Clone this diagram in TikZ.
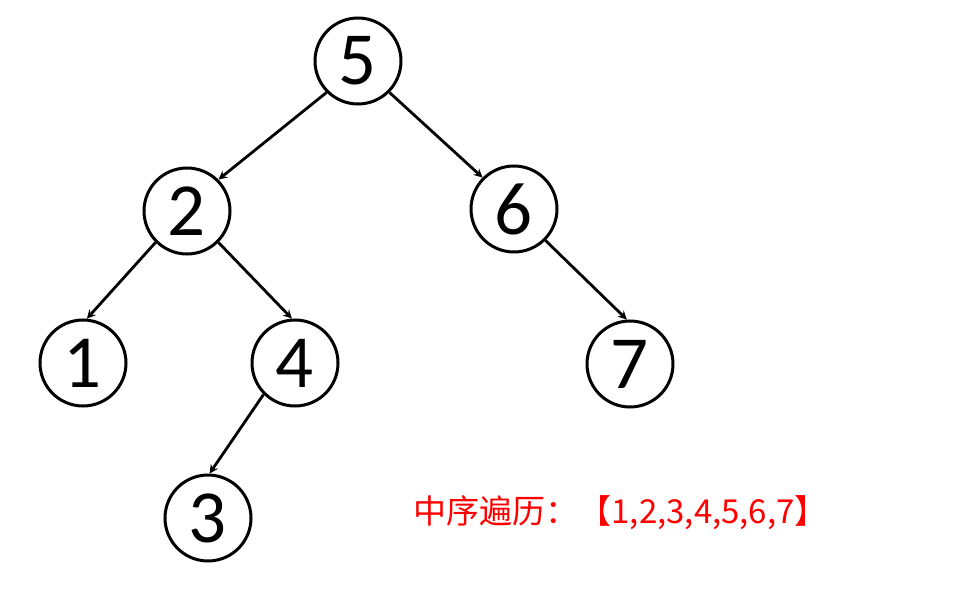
\documentclass[tikz,border=0pt]{standalone}
\usepackage{fontspec}
\setmainfont{Carlito}
\newfontfamily\cjk{Noto Sans CJK SC}
\usetikzlibrary{arrows, positioning}

\begin{document}
\begin{tikzpicture}[
    x=1pt, y=1pt,
    on grid,
    vertex/.style={circle, draw, line width=3pt, minimum size=86pt, inner sep=0pt, font=\fontsize{75}{75}\selectfont},
    arrow/.style={->, >=stealth, line width=2.8pt}
]
\useasboundingbox (0,0) rectangle (967,-599);

% Root
\node[vertex] (five) at (358,-61) {5};

% Second level
\node[vertex, below=150pt of five, xshift=-171pt] (two) {2};
\node[vertex, below=148pt of five, xshift=156pt] (six) {6};

% Third level
\node[vertex, below=152pt of two, xshift=-104pt] (one) {1};
\node[vertex, below=152pt of two, xshift=108pt] (four) {4};
\node[vertex, below=155pt of six, xshift=116pt] (seven) {7};

% Fourth level
\node[vertex, below=155pt of four, xshift=-87pt] (three) {3};

% Result
\node[anchor=west, text=red, font=\cjk\fontsize{33}{33}\selectfont] (inorder) at (410,-513) {中序遍历：【1,2,3,4,5,6,7】};

% Arrows
\draw[arrow] (five.south west) -- (two.north east);
\draw[arrow] (five.south east) -- (six.north west);
\draw[arrow] (two.south west) -- (one.85);
\draw[arrow] (two.south east) -- (four.94);
\draw[arrow] (six.south east) -- (seven.94);
\draw[arrow] (four.south west) -- (three.88);

\end{tikzpicture}
\end{document}
